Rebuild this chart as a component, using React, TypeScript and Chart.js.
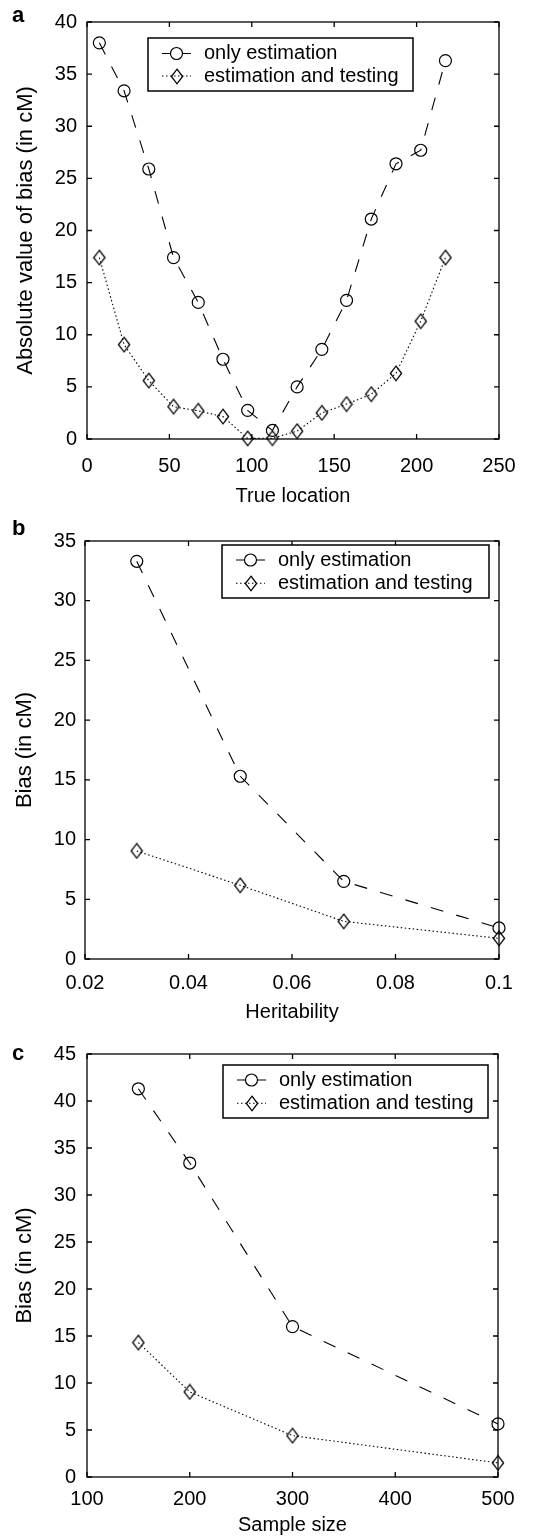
import React, { useEffect, useRef } from "react";
import { Chart, registerables } from "chart.js";

Chart.register(...registerables);

// ---------- DATA ----------
const seriesLabels = ["only estimation", "estimation and testing"];
const panelLetters = ["a", "b", "c"];
const xTitles = ["True location", "Heritability", "Sample size"];
const yTitles = ["Absolute value of bias (in cM)", "Bias (in cM)", "Bias (in cM)"];

const locX = [7.5, 22.5, 37.5, 52.5, 67.5, 82.5, 97.5, 112.5, 127.5, 142.5, 157.5, 172.5, 187.5, 202.5, 217.5];
const locOnlyEst = [38.0, 33.4, 25.9, 17.4, 13.1, 7.65, 2.75, 0.82, 5.0, 8.6, 13.3, 21.1, 26.4, 27.7, 36.3];
const locEstTest = [17.4, 9.05, 5.6, 3.1, 2.7, 2.15, 0.05, 0.08, 0.75, 2.5, 3.35, 4.3, 6.3, 11.3, 17.4];

const herX = [0.03, 0.05, 0.07, 0.1];
const herOnlyEst = [33.3, 15.3, 6.5, 2.6];
const herEstTest = [9.05, 6.17, 3.15, 1.73];

const sizeX = [150, 200, 300, 500];
const sizeOnlyEst = [41.3, 33.4, 16.0, 5.65];
const sizeEstTest = [14.3, 9.05, 4.4, 1.5];

const xMins = [0, 0.02, 100];
const xMaxs = [250, 0.1, 500];
const xSteps = [50, 0.02, 100];
const yMaxs = [40, 35, 45];
const ySteps = [5, 5, 5];

// ---------- LAYOUT / STYLE ----------
const FONT = "'Liberation Sans', Arial, Helvetica, sans-serif";

const panels = [
  {
    top: 0, h: 520, padTop: 18, padRight: 43, yW: 87, xH: 81,
    xTickPad: 15, yTickPad: 10, xTitlePad: 11.5, yTitlePad: 13,
    legend: { l: 148, t: 38, r: 413, b: 91, rows: [53.5, 76] },
    letterPos: [12, 21.5],
  },
  {
    top: 520, h: 510, padTop: 14, padRight: 43, yW: 85, xH: 71,
    xTickPad: 12, yTickPad: 9, xTitlePad: 5.5, yTitlePad: 12,
    legend: { l: 222, t: 25, r: 489, b: 78, rows: [40, 63.3] },
    letterPos: [12, 15],
  },
  {
    top: 1030, h: 508, padTop: 24, padRight: 44, yW: 87, xH: 61,
    xTickPad: 10, yTickPad: 11, xTitlePad: 1, yTitlePad: 12,
    legend: { l: 223, t: 35, r: 488, b: 88, rows: [50, 73.3] },
    letterPos: [12, 30],
  },
];

const panelData = [
  { xs: locX, a: locOnlyEst, b: locEstTest },
  { xs: herX, a: herOnlyEst, b: herEstTest },
  { xs: sizeX, a: sizeOnlyEst, b: sizeEstTest },
];

const DASH_A = [13, 13.5];
const DASH_B = [1.5, 2.5];

function makeDiamond(): HTMLCanvasElement {
  const c = document.createElement("canvas");
  c.width = 14;
  c.height = 17;
  const g = c.getContext("2d")!;
  g.strokeStyle = "#000";
  g.lineWidth = 1.3;
  g.beginPath();
  g.moveTo(7, 1.2);
  g.lineTo(12.6, 8.5);
  g.lineTo(7, 15.8);
  g.lineTo(1.4, 8.5);
  g.closePath();
  g.stroke();
  return c;
}

const framePlugin = {
  id: "matlabFrame",
  afterDraw(chart: any, _args: any, opts: any) {
    const { ctx, chartArea } = chart;
    const { left, right, top, bottom } = chartArea;
    const xs = chart.scales.x;
    const ys = chart.scales.y;
    ctx.save();
    ctx.setLineDash([]);
    ctx.strokeStyle = "#000";
    ctx.lineWidth = 1.3;
    ctx.strokeRect(left, top, right - left, bottom - top);
    const L = 5;
    ctx.beginPath();
    xs.ticks.forEach((t: any) => {
      const px = xs.getPixelForValue(t.value);
      ctx.moveTo(px, bottom);
      ctx.lineTo(px, bottom - L);
      ctx.moveTo(px, top);
      ctx.lineTo(px, top + L);
    });
    ys.ticks.forEach((t: any) => {
      const py = ys.getPixelForValue(t.value);
      ctx.moveTo(left, py);
      ctx.lineTo(left + L, py);
      ctx.moveTo(right, py);
      ctx.lineTo(right - L, py);
    });
    ctx.stroke();

    // legend
    const lg = opts.legend;
    ctx.fillStyle = "#fff";
    ctx.fillRect(lg.l, lg.t, lg.r - lg.l, lg.b - lg.t);
    ctx.lineWidth = 1.5;
    ctx.strokeRect(lg.l, lg.t, lg.r - lg.l, lg.b - lg.t);
    chart.data.datasets.forEach((ds: any, i: number) => {
      const cy = lg.rows[i];
      const x0 = lg.l + 14;
      const x1 = lg.l + 43;
      const mx = lg.l + 28.5;
      ctx.save();
      ctx.lineWidth = 1.1;
      ctx.beginPath();
      if (i === 0) {
        ctx.setLineDash([]);
        ctx.moveTo(x0, cy);
        ctx.lineTo(mx - 6, cy);
        ctx.moveTo(mx + 6, cy);
        ctx.lineTo(x1, cy);
      } else {
        ctx.setLineDash(ds.borderDash || []);
        ctx.moveTo(x0, cy);
        ctx.lineTo(x1, cy);
      }
      ctx.stroke();
      ctx.restore();
      ctx.setLineDash([]);
      if (typeof ds.pointStyle === "string") {
        ctx.lineWidth = 1.2;
        ctx.beginPath();
        ctx.arc(mx, cy, ds.pointRadius, 0, Math.PI * 2);
        ctx.stroke();
      } else {
        const im = ds.pointStyle as HTMLCanvasElement;
        ctx.drawImage(im, Math.round(mx - im.width / 2), Math.round(cy - im.height / 2));
      }
      ctx.fillStyle = "#000";
      ctx.font = `20px ${FONT}`;
      ctx.textBaseline = "middle";
      ctx.textAlign = "left";
      ctx.fillText(ds.label, lg.l + 56, cy);
    });

    // panel letter
    ctx.fillStyle = "#000";
    ctx.font = `bold 22px ${FONT}`;
    ctx.textBaseline = "alphabetic";
    ctx.textAlign = "left";
    ctx.fillText(opts.letter, opts.letterPos[0], opts.letterPos[1]);
    ctx.restore();
  },
};

function Panel({ idx }: { idx: number }) {
  const ref = useRef<HTMLCanvasElement | null>(null);
  const p = panels[idx];
  useEffect(() => {
    const d = panelData[idx];
    const diamond = makeDiamond();
    const fmt = (v: any) => Number(Number(v).toFixed(2)).toString();
    const chart = new Chart(ref.current as HTMLCanvasElement, {
      type: "scatter",
      data: {
        datasets: [
          {
            label: seriesLabels[0],
            data: d.xs.map((x, i) => ({ x, y: d.a[i] })),
            showLine: true,
            borderColor: "#000",
            borderWidth: 1.1,
            borderDash: DASH_A,
            pointStyle: "circle",
            pointRadius: 6,
            pointHoverRadius: 6,
            pointBorderColor: "#000",
            pointBackgroundColor: "rgba(0,0,0,0)",
            pointBorderWidth: 1.2,
            clip: false,
          } as any,
          {
            label: seriesLabels[1],
            data: d.xs.map((x, i) => ({ x, y: d.b[i] })),
            showLine: true,
            borderColor: "#000",
            borderWidth: 1.1,
            borderDash: DASH_B,
            pointStyle: diamond,
            pointRadius: 7,
            pointHoverRadius: 7,
            pointBorderColor: "#000",
            pointBackgroundColor: "rgba(0,0,0,0)",
            clip: false,
          } as any,
        ],
      },
      options: {
        animation: false,
        responsive: false,
        events: [],
        layout: { padding: { left: 0, top: p.padTop, right: p.padRight, bottom: 0 } },
        plugins: {
          legend: { display: false },
          tooltip: { enabled: false },
          matlabFrame: { legend: p.legend, letter: panelLetters[idx], letterPos: p.letterPos },
        } as any,
        scales: {
          x: {
            type: "linear",
            min: xMins[idx],
            max: xMaxs[idx],
            grid: { display: false, drawTicks: false },
            border: { display: false },
            ticks: {
              stepSize: xSteps[idx],
              padding: p.xTickPad,
              maxRotation: 0,
              autoSkip: false,
              color: "#000",
              font: { size: 20, family: FONT },
              callback: fmt,
            },
            title: {
              display: true,
              text: xTitles[idx],
              color: "#000",
              font: { size: 20, family: FONT },
              padding: { top: 0, bottom: p.xTitlePad },
            },
            afterFit: (s: any) => {
              s.height = p.xH;
            },
          },
          y: {
            type: "linear",
            min: 0,
            max: yMaxs[idx],
            grid: { display: false, drawTicks: false },
            border: { display: false },
            ticks: {
              stepSize: ySteps[idx],
              padding: p.yTickPad,
              color: "#000",
              font: { size: 20, family: FONT },
              callback: fmt,
            },
            title: {
              display: true,
              text: yTitles[idx],
              color: "#000",
              font: { size: 22, family: FONT },
              padding: { top: p.yTitlePad, bottom: 0 },
            },
            afterFit: (s: any) => {
              s.width = p.yW;
            },
          },
        },
      } as any,
      plugins: [framePlugin],
    });
    return () => chart.destroy();
  }, [idx]);
  return (
    <canvas
      ref={ref}
      width={542}
      height={p.h}
      style={{ position: "absolute", left: 0, top: p.top, width: 542, height: p.h }}
    />
  );
}

export default function App() {
  return (
    <div
      style={{
        position: "absolute",
        left: 0,
        top: 0,
        width: 542,
        height: 1538,
        background: "#fff",
        overflow: "hidden",
      }}
    >
      <Panel idx={0} />
      <Panel idx={1} />
      <Panel idx={2} />
    </div>
  );
}
